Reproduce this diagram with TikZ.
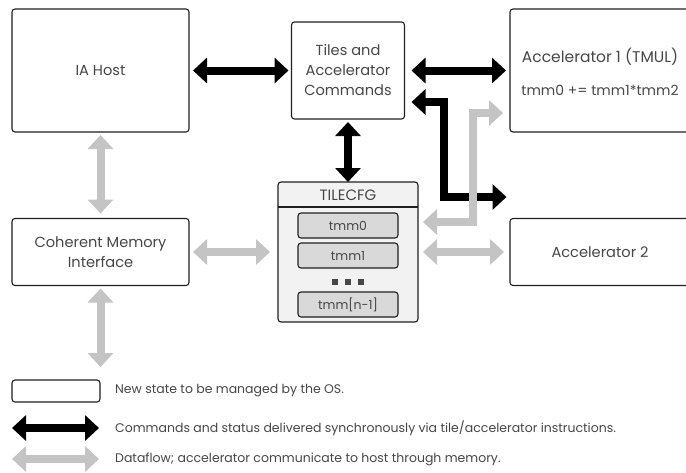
\documentclass[tikz,border=0pt]{standalone}
\usepackage{fontspec}
\setmainfont{Poppins}
\usetikzlibrary{arrows.meta}
\definecolor{txt}{HTML}{474747}
\definecolor{bord}{HTML}{202020}
\definecolor{flow}{HTML}{C4C4C4}
\definecolor{cfgfill}{HTML}{F2F2F2}
\definecolor{regfill}{HTML}{D9D9D9}
\tikzset{
  statebox/.style={draw=bord, line width=1.1pt, rounded corners=3pt, fill=white, inner sep=0pt, outer sep=0pt, text=txt, align=center, font=\fontsize{14.6}{20}\selectfont},
  regbox/.style={statebox, fill=regfill, minimum width=100pt, minimum height=25pt, font=\fontsize{12.5}{16}\selectfont},
  cmdarrow/.style={line width=8pt, draw=black, arrows={Triangle[length=14pt,width=25pt]-Triangle[length=14pt,width=25pt]}},
  flowarrow/.style={line width=8pt, draw=flow, arrows={Triangle[length=14pt,width=25pt]-Triangle[length=14pt,width=25pt]}},
  legtext/.style={anchor=west, text=txt, inner sep=0pt, font=\fontsize{12.5}{15}\selectfont},
}
\begin{document}
\begin{tikzpicture}[x=1pt,y=-1pt]
\clip (0,0) rectangle (686,472);
\fill[white] (0,0) rectangle (686,472);
% boxes
\node[statebox, minimum width=177pt, minimum height=123pt] (ia) at (100.5,70.5) {IA Host};
\node[statebox, minimum width=113pt, minimum height=97pt] (tiles) at (348,70.5) {Tiles and\\Accelerator\\Commands};
\node[statebox, minimum width=180pt, minimum height=123pt] (acc1) at (600,70.5) {};
\node[text=txt, font=\fontsize{15.5}{18}\selectfont] (acc1t) at (600,57) {Accelerator 1 (TMUL)};
\node[text=txt, font=\fontsize{14}{17}\selectfont] (acc1f) at (600,90) {tmm0 += tmm1*tmm2};
\node[statebox, minimum width=177pt, minimum height=67pt] (cmi) at (100.5,252) {Coherent Memory\\Interface};
\node[statebox, minimum width=180pt, minimum height=67pt] (acc2) at (600,252) {Accelerator 2};
% TILECFG
\node[statebox, fill=cfgfill, minimum width=140pt, minimum height=140pt] (cfg) at (348,252) {};
\draw[bord, line width=1.1pt] (cfg.west |- 0,207) -- (cfg.east |- 0,207);
\node[text=txt, font=\fontsize{15}{18}\selectfont] (cfgt) at (348,195) {TILECFG};
\node[regbox] (tmm0) at (348,225.5) {tmm0};
\node[regbox] (tmm1) at (348,255.5) {tmm1};
\node[regbox] (tmmn) at (348,304.5) {tmm[n-1]};
\foreach \dx [count=\i] in {-13,0,13}
  \node[fill=txt, minimum size=6pt, inner sep=0pt] (dot\i) at (348+\dx,282) {};
% command arrows
\draw[cmdarrow] ([xshift=4pt]ia.east) -- ([xshift=-3pt]tiles.west);
\draw[cmdarrow] ([xshift=7pt]tiles.east) -- ([xshift=-4pt]acc1.west);
\draw[cmdarrow] ([yshift=-3pt]tiles.south) -- (cfg.north);
\draw[cmdarrow, line join=miter] ([xshift=7pt,yshift=-31.5pt]tiles.east) -- ++(32,0) -- ++(0,95) -- ++(63,0);
% dataflow arrows
\draw[flowarrow, line join=miter] ([xshift=-7pt,yshift=-42.5pt]acc1.west) -- ++(-30,0) -- ++(0,109) -- ([xshift=5pt,yshift=30pt]cfg.east);
\draw[flowarrow] ([xshift=5pt]cfg.east) -- ([xshift=-6pt]acc2.west);
\draw[flowarrow] ([xshift=4pt]cmi.east) -- ([xshift=-8pt]cfg.west);
\draw[flowarrow] ([yshift=-3pt]ia.south) -- ([yshift=5pt]cmi.north);
\coordinate (memend) at (100.5,367);
\draw[flowarrow] ([yshift=-3pt]cmi.south) -- (memend);
% legend
\node[statebox, minimum width=88pt, minimum height=22pt] (leg1) at (56,391) {};
\node[legtext] (leg1t) at (115,391) {New state to be managed by the OS.};
\coordinate (l2a) at (12,428);
\coordinate (l2b) at (99,428);
\draw[cmdarrow] (l2a) -- (l2b);
\node[legtext] (leg2t) at (115,428) {Commands and status delivered synchronously via tile/accelerator instructions.};
\coordinate (l3a) at (12,459);
\coordinate (l3b) at (99,459);
\draw[flowarrow] (l3a) -- (l3b);
\node[legtext] (leg3t) at (115,459) {Dataflow; accelerator communicate to host through memory.};
\end{tikzpicture}
\end{document}
